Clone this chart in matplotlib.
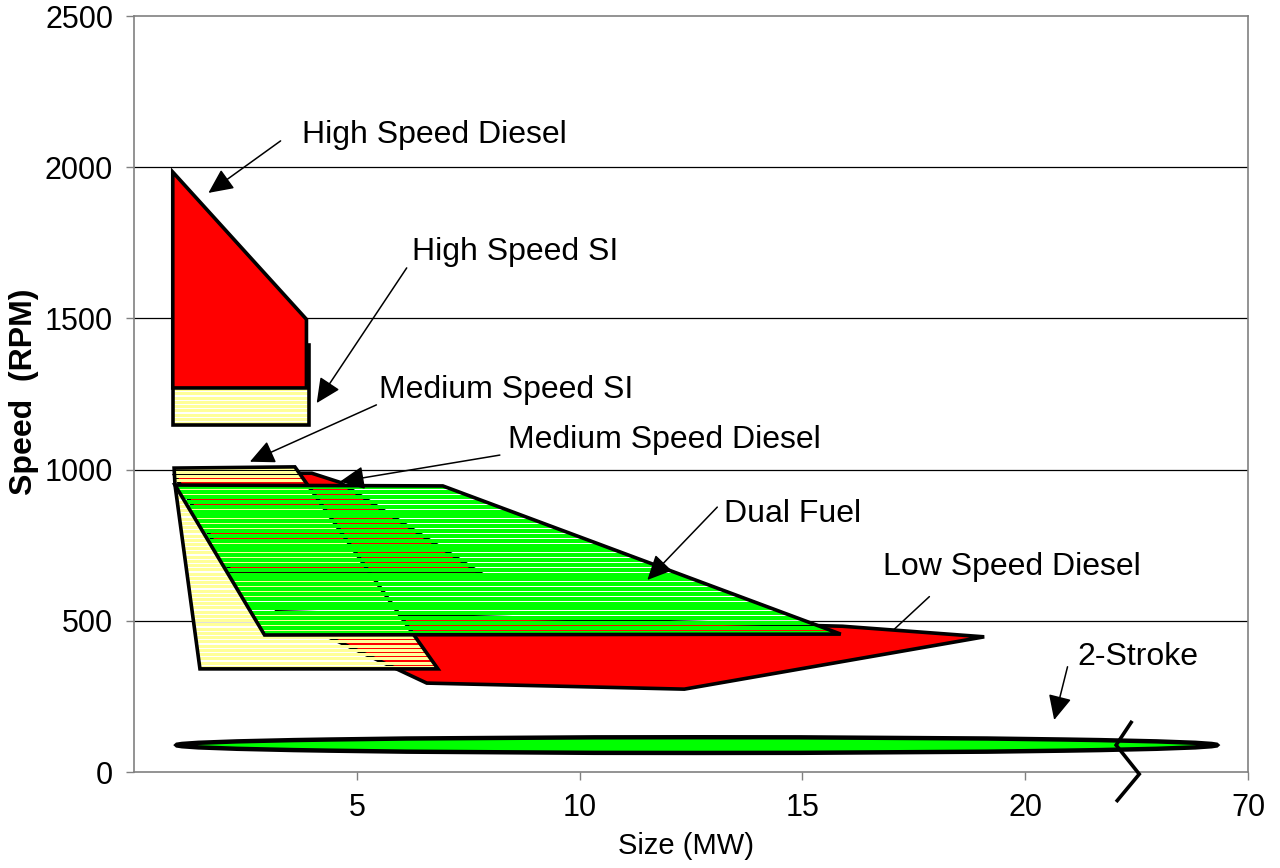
import numpy as np
import matplotlib
matplotlib.use("Agg")
import matplotlib.pyplot as plt
from matplotlib.patches import Polygon, Ellipse

plt.rcParams['font.family'] = ['Liberation Sans', 'DejaVu Sans']

# ---------------- data (Size MW, Speed RPM) ----------------
x_ticks = [5, 10, 15, 20, 25]
x_tick_labels = ['5', '10', '15', '20', '70']
y_ticks = [0, 500, 1000, 1500, 2000, 2500]

hs_si_x = [0.87, 3.93, 3.93, 0.87]
hs_si_y = [1147, 1147, 1412, 1412]

hs_diesel_x = [0.87, 3.87, 3.87, 0.87]
hs_diesel_y = [1984, 1497, 1270, 1270]

ms_diesel_x = [0.92, 3.76, 3.99, 4.62, 7.8, 2.2]
ms_diesel_y = [980, 988, 988, 958, 655, 655]

ls_diesel_x = [3.16, 15.9, 19.08, 12.35, 6.57]
ls_diesel_y = [530, 482, 447, 274, 294]

ms_si_x = [0.90, 3.61, 6.82, 1.48, 0.92]
ms_si_y = [1005, 1009, 341, 341, 949]

dual_fuel_x = [0.92, 6.93, 15.86, 2.93]
dual_fuel_y = [949, 946, 456, 453]

two_stroke_center = (12.63, 89)
two_stroke_width = 23.35
two_stroke_height = 52

break_x = [22.40, 22.04, 22.56, 22.04]
break_y = [169, 89, -7, -99]

labels = ['High Speed Diesel', 'High Speed SI', 'Medium Speed SI',
          'Medium Speed Diesel', 'Dual Fuel', 'Low Speed Diesel', '2-Stroke']
label_xy = [(3.78, 2080), (6.25, 1693), (5.49, 1237), (8.40, 1071),
            (13.25, 827), (16.81, 651), (21.18, 354)]
arrow_tail = [(3.29, 2087), (6.12, 1667), (5.44, 1214), (8.21, 1048),
              (13.09, 876), (17.85, 580), (20.95, 348)]
arrow_tip = [(1.67, 1915), (4.10, 1220), (2.60, 1026), (4.62, 960),
             (11.52, 635), (17.06, 472), (20.65, 172)]
arrow_head = [True, True, True, True, True, False, True]

RED = '#FF0000'
YELLOW = '#FFFF99'
GREEN = '#00FF00'
EDGE_LW = 2.6

fig = plt.figure(figsize=(12.8, 8.68), dpi=100)
ax = fig.add_axes([134/1280, 96/868, 1114/1280, 756/868])
ax.set_xlim(0, 25)
ax.set_ylim(0, 2500)


def solid(xs, ys, color, z):
    p = Polygon(np.column_stack([xs, ys]), closed=True, facecolor=color,
                edgecolor='black', lw=EDGE_LW, zorder=z, joinstyle='miter')
    ax.add_patch(p)
    return p


def striped(xs, ys, color, step, lw_pt, z):
    p = Polygon(np.column_stack([xs, ys]), closed=True, facecolor='none',
                edgecolor='black', lw=EDGE_LW, zorder=z + 0.5, joinstyle='miter')
    ax.add_patch(p)
    levels = np.arange(min(ys) + step / 2, max(ys), step)
    lc = ax.hlines(levels, min(xs), max(xs), colors=color, linewidth=lw_pt,
                   zorder=z, antialiased=False)
    lc.set_clip_path(p)
    return p


# High speed SI (behind high speed diesel)
striped(hs_si_x, hs_si_y, YELLOW, 14, 1.95, 2)
solid(hs_diesel_x, hs_diesel_y, RED, 3)

# Medium / low speed diesel
solid(ms_diesel_x, ms_diesel_y, RED, 2)
solid(ls_diesel_x, ls_diesel_y, RED, 2.2)
# Medium speed SI
striped(ms_si_x, ms_si_y, YELLOW, 14, 1.95, 4)
# Dual fuel
striped(dual_fuel_x, dual_fuel_y, GREEN, 16, 2.6, 6)

# 2-stroke ellipse
ax.add_patch(Ellipse(two_stroke_center, two_stroke_width, two_stroke_height,
                     facecolor=GREEN, edgecolor='black', lw=3.2, zorder=7))

# axis break symbol
ax.plot(break_x, break_y, color='black', lw=2.6, clip_on=False, zorder=8,
        solid_joinstyle='miter', solid_capstyle='butt')

# labels & arrows
for txt, (tx, ty), tail, tip, head in zip(labels, label_xy, arrow_tail, arrow_tip, arrow_head):
    ax.text(tx, ty, txt, fontsize=23, ha='left', va='baseline', zorder=10)
    style = '-|>,head_length=0.95,head_width=0.45' if head else '-'
    ax.annotate('', xy=tip, xytext=tail,
                arrowprops=dict(arrowstyle=style, color='black', lw=1.1,
                                mutation_scale=16, shrinkA=0, shrinkB=0),
                zorder=10)

# axes styling
ax.set_xticks(x_ticks)
ax.set_xticklabels(x_tick_labels)
ax.set_yticks(y_ticks)
ax.tick_params(axis='both', labelsize=22, direction='out', length=6,
               width=1, color='#808080', pad=9)
for s in ax.spines.values():
    s.set_color('#808080')
    s.set_linewidth(1.2)
for g in y_ticks[1:-1]:
    ax.axhline(g, color='black', lw=0.9, zorder=0.5)

fig.text(686/1280, 1 - 846/868, 'Size (MW)', fontsize=21, ha='center', va='center')
fig.text(24/1280, 1 - 392/868, 'Speed  (RPM)', fontsize=23, fontweight='bold',
         rotation=90, ha='center', va='center')

fig.savefig('out.png', dpi=100)
